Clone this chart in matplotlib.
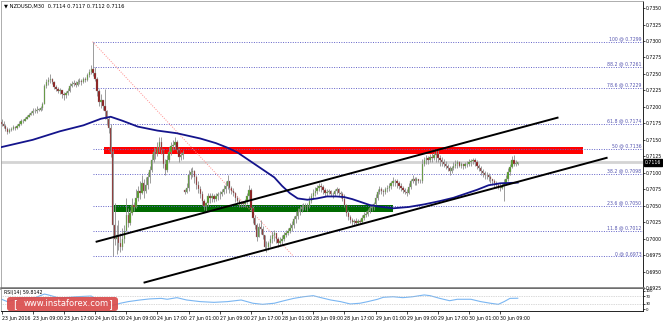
import numpy as np
import matplotlib.pyplot as plt
import matplotlib.transforms as mtransforms
from matplotlib.patches import Rectangle, FancyBboxPatch

# NZDUSD M30 candles, 23 Jun 01:00 .. 30 Jun 13:30 (one row = 16 bars = 8 hours)
first_open = 0.7177
open_gaps = {94: 0.7074}   # Monday open after the weekend

closes = [
    .7174, .7171, .7167, .7162, .7165, .7167, .7170, .7168, .7171, .7174, .7178, .7179, .7182, .7184, .7188, .7190,
    .7193, .7194, .7196, .7196, .7198, .7204, .7231, .7238, .7241, .7242, .7238, .7230, .7227, .7224, .7225, .7219,
    .7218, .7221, .7224, .7231, .7234, .7236, .7233, .7238, .7239, .7238, .7242, .7241, .7248, .7253, .7258, .7251,
    .7242, .7224, .7208, .7211, .7202, .7193, .7181, .7168, .7131, .7020, .6999, .7005, .6993, .6987, .7000, .7011,
    .7036, .7024, .7039, .7051, .7048, .7062, .7073, .7070, .7085, .7073, .7082, .7093, .7104, .7119, .7131, .7128,
    .7139, .7147, .7134, .7113, .7104, .7119, .7131, .7141, .7142, .7147, .7134, .7124, .7127, .7130, .7071, .7077,
    .7097, .7101, .7102, .7093, .7082, .7076, .7068, .7057, .7050, .7054, .7065, .7062, .7065, .7060, .7064, .7067,
    .7068, .7071, .7076, .7080, .7087, .7077, .7073, .7070, .7062, .7057, .7053, .7054, .7053, .7056, .7065, .7074,
    .7047, .7031, .7020, .7003, .7017, .7014, .7005, .6988, .6987, .6993, .6999, .7005, .7008, .6999, .6993, .6996,
    .6999, .7005, .7008, .7011, .7016, .7020, .7030, .7034, .7040, .7045, .7048, .7050, .7048, .7050, .7057, .7064,
    .7070, .7073, .7077, .7080, .7079, .7074, .7070, .7071, .7073, .7068, .7067, .7073, .7076, .7070, .7068, .7060,
    .7051, .7039, .7033, .7028, .7025, .7027, .7024, .7027, .7025, .7031, .7036, .7037, .7042, .7047, .7048, .7053,
    .7062, .7071, .7076, .7073, .7071, .7076, .7077, .7080, .7084, .7088, .7087, .7084, .7080, .7077, .7074, .7071,
    .7070, .7079, .7087, .7091, .7088, .7090, .7087, .7088, .7113, .7119, .7122, .7119, .7124, .7122, .7127, .7128,
    .7122, .7119, .7116, .7113, .7110, .7107, .7102, .7107, .7111, .7113, .7116, .7111, .7113, .7110, .7113, .7114,
    .7116, .7118, .7119, .7116, .7111, .7107, .7102, .7099, .7096, .7097, .7093, .7090, .7087, .7084, .7082, .7079,
    .7077, .7080, .7085, .7091, .7101, .7108, .7119, .7114, .7114, .7116,
]
highs = [
    .7181, .7178, .7174, .7170, .7168, .7170, .7173, .7171, .7174, .7178, .7181, .7182, .7185, .7188, .7191, .7193,
    .7198, .7198, .7201, .7199, .7202, .7207, .7234, .7242, .7245, .7250, .7244, .7239, .7233, .7230, .7228, .7225,
    .7222, .7224, .7228, .7236, .7239, .7241, .7239, .7242, .7244, .7242, .7245, .7245, .7251, .7258, .7264, .7299,
    .7261, .7245, .7227, .7219, .7211, .7227, .7196, .7184, .7174, .7134, .7054, .7020, .7028, .7008, .7016, .7020,
    .7062, .7047, .7044, .7062, .7056, .7076, .7080, .7088, .7097, .7090, .7094, .7101, .7111, .7128, .7139, .7137,
    .7147, .7154, .7154, .7136, .7121, .7127, .7139, .7147, .7150, .7154, .7150, .7137, .7131, .7134, .7076, .7085,
    .7104, .7107, .7108, .7104, .7097, .7088, .7080, .7073, .7060, .7056, .7070, .7070, .7070, .7068, .7070, .7071,
    .7073, .7076, .7082, .7087, .7096, .7088, .7080, .7077, .7071, .7065, .7060, .7057, .7057, .7060, .7070, .7082,
    .7077, .7050, .7036, .7024, .7024, .7028, .7019, .7005, .6996, .6997, .7005, .7011, .7013, .7008, .7003, .7002,
    .7005, .7010, .7013, .7016, .7024, .7027, .7034, .7042, .7047, .7050, .7053, .7054, .7054, .7054, .7064, .7070,
    .7076, .7079, .7082, .7085, .7085, .7082, .7077, .7076, .7076, .7074, .7071, .7076, .7079, .7077, .7073, .7071,
    .7067, .7053, .7044, .7036, .7031, .7030, .7031, .7030, .7030, .7036, .7040, .7042, .7045, .7050, .7053, .7056,
    .7067, .7076, .7080, .7079, .7076, .7079, .7082, .7084, .7088, .7094, .7091, .7090, .7087, .7084, .7080, .7077,
    .7076, .7084, .7091, .7096, .7094, .7093, .7091, .7091, .7121, .7124, .7127, .7125, .7128, .7130, .7131, .7136,
    .7134, .7127, .7124, .7121, .7118, .7114, .7110, .7111, .7116, .7119, .7119, .7118, .7116, .7114, .7116, .7118,
    .7121, .7121, .7122, .7122, .7119, .7113, .7110, .7105, .7102, .7101, .7099, .7096, .7091, .7090, .7087, .7085,
    .7084, .7085, .7091, .7097, .7107, .7113, .7125, .7127, .7119, .7117,
]
lows = [
    .7171, .7168, .7164, .7159, .7161, .7164, .7165, .7165, .7167, .7170, .7173, .7176, .7178, .7181, .7184, .7187,
    .7188, .7190, .7191, .7193, .7194, .7196, .7204, .7228, .7233, .7236, .7234, .7227, .7224, .7221, .7219, .7213,
    .7211, .7214, .7218, .7222, .7230, .7231, .7230, .7231, .7234, .7233, .7236, .7238, .7239, .7245, .7250, .7247,
    .7239, .7216, .7202, .7198, .7196, .7182, .7173, .7161, .7124, .6973, .6990, .6977, .6983, .6979, .6982, .6993,
    .7011, .7017, .7020, .7036, .7042, .7047, .7057, .7060, .7067, .7062, .7070, .7076, .7085, .7101, .7116, .7121,
    .7125, .7131, .7128, .7107, .7096, .7101, .7116, .7127, .7134, .7136, .7131, .7116, .7119, .7121, .7068, .7070,
    .7073, .7091, .7094, .7085, .7076, .7070, .7062, .7051, .7044, .7042, .7050, .7054, .7056, .7056, .7057, .7059,
    .7060, .7065, .7068, .7070, .7076, .7070, .7067, .7064, .7056, .7053, .7048, .7048, .7048, .7048, .7053, .7060,
    .7042, .7024, .7014, .6997, .7002, .7007, .7000, .6982, .6980, .6983, .6988, .6993, .6997, .6993, .6988, .6990,
    .6991, .6996, .7002, .7005, .7008, .7011, .7016, .7024, .7030, .7036, .7040, .7044, .7044, .7042, .7047, .7054,
    .7060, .7065, .7068, .7073, .7071, .7068, .7065, .7065, .7067, .7065, .7062, .7064, .7068, .7065, .7062, .7057,
    .7048, .7034, .7028, .7024, .7020, .7020, .7020, .7022, .7022, .7024, .7028, .7033, .7034, .7039, .7042, .7044,
    .7051, .7059, .7068, .7067, .7065, .7068, .7071, .7073, .7076, .7080, .7080, .7077, .7076, .7073, .7070, .7067,
    .7065, .7068, .7076, .7084, .7082, .7082, .7084, .7085, .7085, .7110, .7113, .7113, .7116, .7116, .7119, .7116,
    .7116, .7111, .7110, .7108, .7105, .7102, .7097, .7099, .7104, .7107, .7107, .7108, .7107, .7105, .7107, .7108,
    .7110, .7111, .7113, .7111, .7105, .7102, .7097, .7094, .7091, .7090, .7088, .7085, .7082, .7079, .7077, .7076,
    .7073, .7075, .7057, .7082, .7088, .7097, .7107, .7111, .7110, .7112,
]

# moving average (dark blue curve), read at these bars
ma_idx = [0, 16, 30, 42, 51, 56, 62, 70, 80, 90, 102, 110, 116, 121, 126, 131, 136, 140, 144, 148,
          152, 157, 162, 167, 172, 176, 180, 184, 189, 193, 201, 209, 217, 225, 232, 238, 244, 250, 256, 265]
ma_val = [.7139, .7150, .7163, .7172, .7182, .7185, .7179, .7170, .7164, .7160, .7152, .7145, .7138, .7131,
          .7121, .7111, .7101, .7093, .7080, .7069, .7061, .7059, .7061, .7064, .7064, .7063, .7060, .7056,
          .7051, .7049, .7046, .7048, .7052, .7057, .7062, .7068, .7074, .7081, .7084, .7085]

# RSI(14)
rsi_idx = [0, 3, 10, 17, 22, 24, 30, 38, 46, 51, 57, 61, 65, 71, 76, 82, 85, 90, 95, 102, 109, 116, 123,
           129, 134, 140, 145, 150, 155, 160, 164, 169, 174, 179, 184, 188, 193, 196, 201, 206, 211, 217,
           220, 225, 230, 234, 241, 246, 251, 255, 258, 261, 265]
rsi_val = [54, 41, 60, 62, 83, 78, 60, 68, 72, 40, 20, 32, 41, 50, 56, 59, 54, 63, 50, 41, 37, 41, 50,
           32, 26, 32, 46, 59, 68, 74, 63, 50, 41, 28, 32, 41, 54, 65, 68, 63, 68, 78,
           74, 59, 46, 54, 54, 41, 32, 26, 41, 59, 59.8]

fib_pct = ['100', '88.2', '78.6', '61.8', '50', '38.2', '23.6', '11.8', '0']
fib_price = [0.7299, 0.7261, 0.7229, 0.7174, 0.7136, 0.7098, 0.7050, 0.7012, 0.6973]

time_ticks = list(range(0, 257, 16))
time_labels = ['23 Jun 2016', '23 Jun 09:00', '23 Jun 17:00', '24 Jun 01:00', '24 Jun 09:00',
               '24 Jun 17:00', '27 Jun 01:00', '27 Jun 09:00', '27 Jun 17:00', '28 Jun 01:00',
               '28 Jun 09:00', '28 Jun 17:00', '29 Jun 01:00', '29 Jun 09:00', '29 Jun 17:00',
               '30 Jun 01:00', '30 Jun 09:00']
last_price = 0.7116

W, H = 663, 322
fig = plt.figure(figsize=(W / 100, H / 100), dpi=100)
fig.patch.set_facecolor('white')


def px_rect(l, t, r, b):
    return [l / W, 1 - b / H, (r - l) / W, (b - t) / H]


ax = fig.add_axes(px_rect(1, 1, 643, 288))
ax_rsi = fig.add_axes(px_rect(1, 289, 643, 311))
xlim = (-0.3, 329.3)

# candles
o = np.array([first_open] + closes[:-1])
for k, v in open_gaps.items():
    o[k] = v
c = np.array(closes)
hi = np.array(highs)
lo = np.array(lows)
idx = np.arange(len(c))
up = c >= o
ax.vlines(idx, lo, hi, color='#8c8c8c', lw=0.6, zorder=3)
ax.bar(idx, np.maximum(np.abs(c - o), 0.00005), bottom=np.minimum(o, c), width=0.7,
       color=np.where(up, '#4e9a1e', '#8b1111'), edgecolor='#9a9a9a', linewidth=0.25, zorder=4)

# zones, current price line
ax.add_patch(Rectangle((52.4, 0.7128), 298.3 - 52.4, 0.0011, color='#ff0000', lw=0, zorder=1.5))
ax.add_patch(Rectangle((57.5, 0.7040), 201.2 - 57.5, 0.0011, color='#006b00', lw=0, zorder=1.5))
ax.axhline(last_price, color='#d4d4d4', lw=2, zorder=1)

# fibonacci
ax.hlines(fib_price, 46.7, xlim[1], colors='#6262c8', linestyles=(0, (1, 1.5)), lw=0.7, zorder=2)
for pct, p in zip(fib_pct, fib_price):
    ax.text(xlim[1] - 0.8, p + 0.00004, f'{pct} @ {p:.4f}', ha='right', va='bottom',
            fontsize=3.3, color='#5555b0', zorder=7)
ax.plot([46.7, 149.9], [0.7299, 0.6973], color='#ff8c8c', ls=(0, (1, 1.5)), lw=0.7, zorder=2)

# channel
ax.plot([48.3, 285.9], [0.6995, 0.7184], color='black', lw=1.4, zorder=6, solid_capstyle='butt')
ax.plot([72.9, 311.1], [0.6933, 0.7123], color='black', lw=1.4, zorder=6, solid_capstyle='butt')

ax.plot(ma_idx, ma_val, color='#14148c', lw=1.3, zorder=5)

ax.set_xlim(*xlim)
ax.set_ylim(0.692884, 0.736078)
ax.set_xticks([])
ax.yaxis.tick_right()
yt = np.arange(0.6925, 0.73501, 0.0025)
ax.set_yticks(yt)
ax.set_yticklabels([f'{v:.4f}' for v in yt])
ax.tick_params(axis='y', length=1.5, width=0.5, pad=0.5, labelsize=3.3)
for s in ('left', 'top'):
    ax.spines[s].set_color('#a0a0a0')
    ax.spines[s].set_linewidth(0.6)
ax.spines['right'].set_linewidth(0.6)
ax.spines['bottom'].set_color('#6e6e6e')
ax.spines['bottom'].set_linewidth(1.8)

trans = mtransforms.blended_transform_factory(ax.transAxes, ax.transData)
ax.text(1.003, last_price, f'{last_price:.4f}', transform=trans, ha='left', va='center',
        fontsize=3.3, color='white', zorder=8,
        bbox=dict(facecolor='black', edgecolor='black', boxstyle='square,pad=0.2'))

fig.text(4 / W, 1 - 5.5 / H, '\u25bc NZDUSD,M30  0.7114 0.7117 0.7112 0.7116',
         fontsize=3.7, va='center', ha='left')

# RSI panel
ax_rsi.plot(rsi_idx, rsi_val, color='#7ab6f2', lw=0.8)
ax_rsi.axhline(70, color='#b4b4b4', ls=(0, (1, 1.5)), lw=0.5)
ax_rsi.axhline(30, color='#b4b4b4', ls=(0, (1, 1.5)), lw=0.5)
ax_rsi.set_xlim(*xlim)
ax_rsi.set_ylim(-11, 111)
ax_rsi.yaxis.tick_right()
ax_rsi.set_yticks([0, 30, 70, 100])
ax_rsi.set_yticklabels(['0', '30', '70', '100'])
ax_rsi.tick_params(axis='y', length=1.5, width=0.5, pad=0.5, labelsize=2.8)
ax_rsi.set_xticks(time_ticks)
ax_rsi.set_xticklabels(time_labels, ha='left')
ax_rsi.tick_params(axis='x', length=2.5, width=0.5, pad=1, labelsize=3.4)
ax_rsi.spines['top'].set_visible(False)
ax_rsi.spines['left'].set_color('#a0a0a0')
for s in ('left', 'right', 'bottom'):
    ax_rsi.spines[s].set_linewidth(0.6)
ax_rsi.text(0.004, 0.95, 'RSI(14) 59.8142', transform=ax_rsi.transAxes, fontsize=3.4,
            va='top', ha='left')

# watermark
fig.add_artist(FancyBboxPatch((0.07, (H - 311) / 100), 1.11, 0.14,
                              boxstyle='round,pad=0,rounding_size=0.03',
                              transform=fig.dpi_scale_trans, facecolor='#d94848',
                              edgecolor='none', alpha=0.9, zorder=10))
fig.text(15 / W, 1 - 304 / H, '[', color='white', fontsize=7, ha='center', va='center', zorder=11)
fig.text(110 / W, 1 - 304 / H, ']', color='white', fontsize=7, ha='center', va='center', zorder=11)
fig.text(66 / W, 1 - 304 / H, 'www.instaforex.com', color='white', fontsize=6,
         ha='center', va='center', zorder=11)

fig.savefig('out.png', dpi=100)
